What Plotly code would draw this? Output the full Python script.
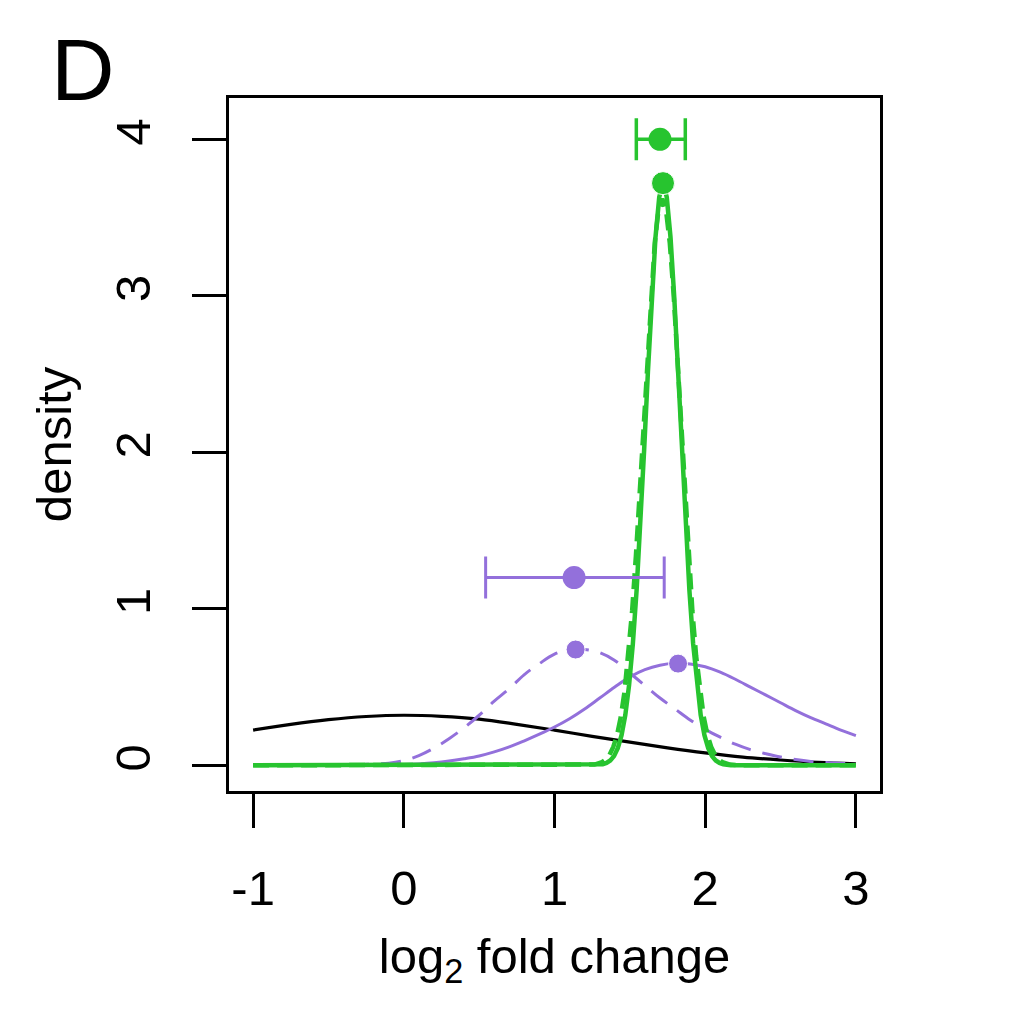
import plotly.graph_objects as go

# ---- data ----
x_black = [-1.0, -0.75, -0.5, -0.25, 0.0, 0.25, 0.5, 0.75, 1.0, 1.25, 1.5, 1.75, 2.0, 2.25, 2.5, 2.75, 3.0]
y_black = [0.225, 0.262, 0.292, 0.312, 0.32, 0.313, 0.295, 0.262, 0.225, 0.185, 0.148, 0.112, 0.08, 0.053, 0.034, 0.019, 0.009]

x_purple = [-1.0, -0.9, -0.8, -0.7, -0.6, -0.5, -0.4, -0.3, -0.2, -0.1,
            0.0, 0.1, 0.2, 0.3, 0.4, 0.5, 0.6, 0.7, 0.8, 0.9,
            1.0, 1.1, 1.2, 1.3, 1.4, 1.5, 1.6, 1.7, 1.8, 1.9,
            2.0, 2.1, 2.2, 2.3, 2.4, 2.5, 2.6, 2.7, 2.8, 2.9, 3.0]
y_purple_dash = [0.0, 0.0, 0.0, 0.0, 0.001, 0.001, 0.002, 0.004, 0.008, 0.014,
                 0.03, 0.062, 0.11, 0.17, 0.24, 0.32, 0.41, 0.49, 0.58, 0.65,
                 0.71, 0.74, 0.74, 0.72, 0.67, 0.59, 0.51, 0.43, 0.36, 0.29,
                 0.23, 0.18, 0.135, 0.10, 0.075, 0.053, 0.037, 0.025, 0.018, 0.013, 0.009]
y_purple_solid = [0.0, 0.0, 0.0, 0.0, 0.0, 0.0, 0.001, 0.001, 0.002, 0.003,
                  0.005, 0.009, 0.016, 0.027, 0.042, 0.06, 0.086, 0.118, 0.157, 0.199,
                  0.245, 0.298, 0.36, 0.43, 0.50, 0.565, 0.612, 0.64, 0.652, 0.648,
                  0.63, 0.595, 0.55, 0.50, 0.45, 0.40, 0.35, 0.305, 0.265, 0.225, 0.19]

x_green_solid = [-1.0, 1.22, 1.27, 1.32, 1.345, 1.37, 1.395, 1.42, 1.445, 1.47, 1.495,
                 1.52, 1.545, 1.57, 1.595, 1.62, 1.645, 1.67, 1.695, 1.72,
                 1.745, 1.77, 1.795, 1.82, 1.845, 1.87, 1.895, 1.92, 1.945,
                 1.97, 1.995, 2.02, 2.045, 2.07, 2.095, 2.12, 2.17, 2.22, 3.0]
y_green_solid = [0.0, 0.0, 0.001, 0.007, 0.015, 0.031, 0.059, 0.110, 0.193, 0.322, 0.513,
                 0.777, 1.121, 1.542, 2.018, 2.515, 2.985, 3.373, 3.63, 3.72,
                 3.63, 3.373, 2.985, 2.515, 2.018, 1.542, 1.121, 0.777, 0.513,
                 0.322, 0.193, 0.110, 0.059, 0.031, 0.015, 0.007, 0.001, 0.0, 0.0]

x_green_dash = [-1.0, 1.215, 1.265, 1.315, 1.34, 1.365, 1.39, 1.415, 1.44, 1.465, 1.49,
                1.515, 1.54, 1.565, 1.59, 1.615, 1.64, 1.665, 1.69, 1.715,
                1.74, 1.765, 1.79, 1.815, 1.84, 1.865, 1.89, 1.915, 1.94,
                1.965, 1.99, 2.015, 2.04, 2.065, 2.09, 2.115, 2.165, 2.215, 3.0]
y_green_dash = [0.0, 0.001, 0.005, 0.020, 0.037, 0.067, 0.117, 0.194, 0.310, 0.474, 0.698,
                0.986, 1.337, 1.742, 2.178, 2.615, 3.015, 3.337, 3.547, 3.62,
                3.547, 3.337, 3.015, 2.615, 2.178, 1.742, 1.337, 0.986, 0.698,
                0.474, 0.310, 0.194, 0.117, 0.067, 0.037, 0.020, 0.005, 0.001, 0.0]

# modes marked on the curves
mode_x = [1.14, 1.82, 1.72]
mode_y = [0.74, 0.65, 3.72]

# estimates with intervals
est_green = 1.70
est_green_lo, est_green_hi = 1.543, 1.868
est_green_y = 4.0
est_purple = 1.13
est_purple_lo, est_purple_hi = 0.543, 1.728
est_purple_y = 1.2

GREEN = "#27c42f"
PURPLE = "#9370db"
FONT = "Liberation Sans, Arial, Helvetica, sans-serif"

fig = go.Figure()

fig.add_trace(go.Scatter(x=x_black, y=y_black, mode="lines",
                         line=dict(color="black", width=3.2, shape="spline")))
fig.add_trace(go.Scatter(x=x_purple, y=y_purple_dash, mode="lines",
                         line=dict(color=PURPLE, width=3, dash="20px,12px", shape="spline")))
fig.add_trace(go.Scatter(x=x_purple, y=y_purple_solid, mode="lines",
                         line=dict(color=PURPLE, width=3, shape="spline")))
fig.add_trace(go.Scatter(x=x_green_dash, y=y_green_dash, mode="lines",
                         line=dict(color=GREEN, width=4.5, dash="16px,8px")))
fig.add_trace(go.Scatter(x=x_green_solid, y=y_green_solid, mode="lines",
                         line=dict(color=GREEN, width=4.5)))

# dots on the curve modes
fig.add_trace(go.Scatter(x=mode_x, y=mode_y, mode="markers",
                         marker=dict(color=[PURPLE, PURPLE, GREEN], size=[19, 19, 23], opacity=1)))

# point estimates with error bars
fig.add_trace(go.Scatter(
    x=[est_purple], y=[est_purple_y], mode="markers",
    marker=dict(color=PURPLE, size=23, opacity=1),
    error_x=dict(type="data", symmetric=False,
                 array=[est_purple_hi - est_purple],
                 arrayminus=[est_purple - est_purple_lo],
                 color=PURPLE, thickness=3, width=21)))
fig.add_trace(go.Scatter(
    x=[est_green], y=[est_green_y], mode="markers",
    marker=dict(color=GREEN, size=23, opacity=1),
    error_x=dict(type="data", symmetric=False,
                 array=[est_green_hi - est_green],
                 arrayminus=[est_green - est_green_lo],
                 color=GREEN, thickness=3.5, width=21)))

fig.add_annotation(text="D", xref="paper", yref="paper", x=-0.225, y=1.041,
                   xanchor="center", yanchor="middle", showarrow=False,
                   font=dict(size=88, color="black", family=FONT))

axis_common = dict(showline=True, linecolor="black", linewidth=3, mirror=True,
                   ticks="outside", ticklen=34, tickwidth=3, tickcolor="black",
                   showgrid=False, zeroline=False,
                   tickfont=dict(size=49, color="black", family=FONT))

fig.update_layout(
    width=1016, height=1032,
    margin=dict(l=221, r=144, t=90, b=249),
    paper_bgcolor="white", plot_bgcolor="white",
    showlegend=False, hovermode=False,
    font=dict(family=FONT, color="black"),
    xaxis=dict(range=[-1.16, 3.16], tickvals=[-1, 0, 1, 2, 3], ticktext=["-1", "0", "1", "2", "3"],
               ticklabelstandoff=18,
               title=dict(text="log<sub>2</sub> fold change", font=dict(size=49), standoff=25),
               **axis_common),
    yaxis=dict(range=[-0.164, 4.264], tickvals=[0, 1, 2, 3, 4], tickangle=-90,
               ticklabelstandoff=22,
               title=dict(text="density", font=dict(size=49), standoff=20),
               **axis_common),
)

fig.write_html("out.html")
